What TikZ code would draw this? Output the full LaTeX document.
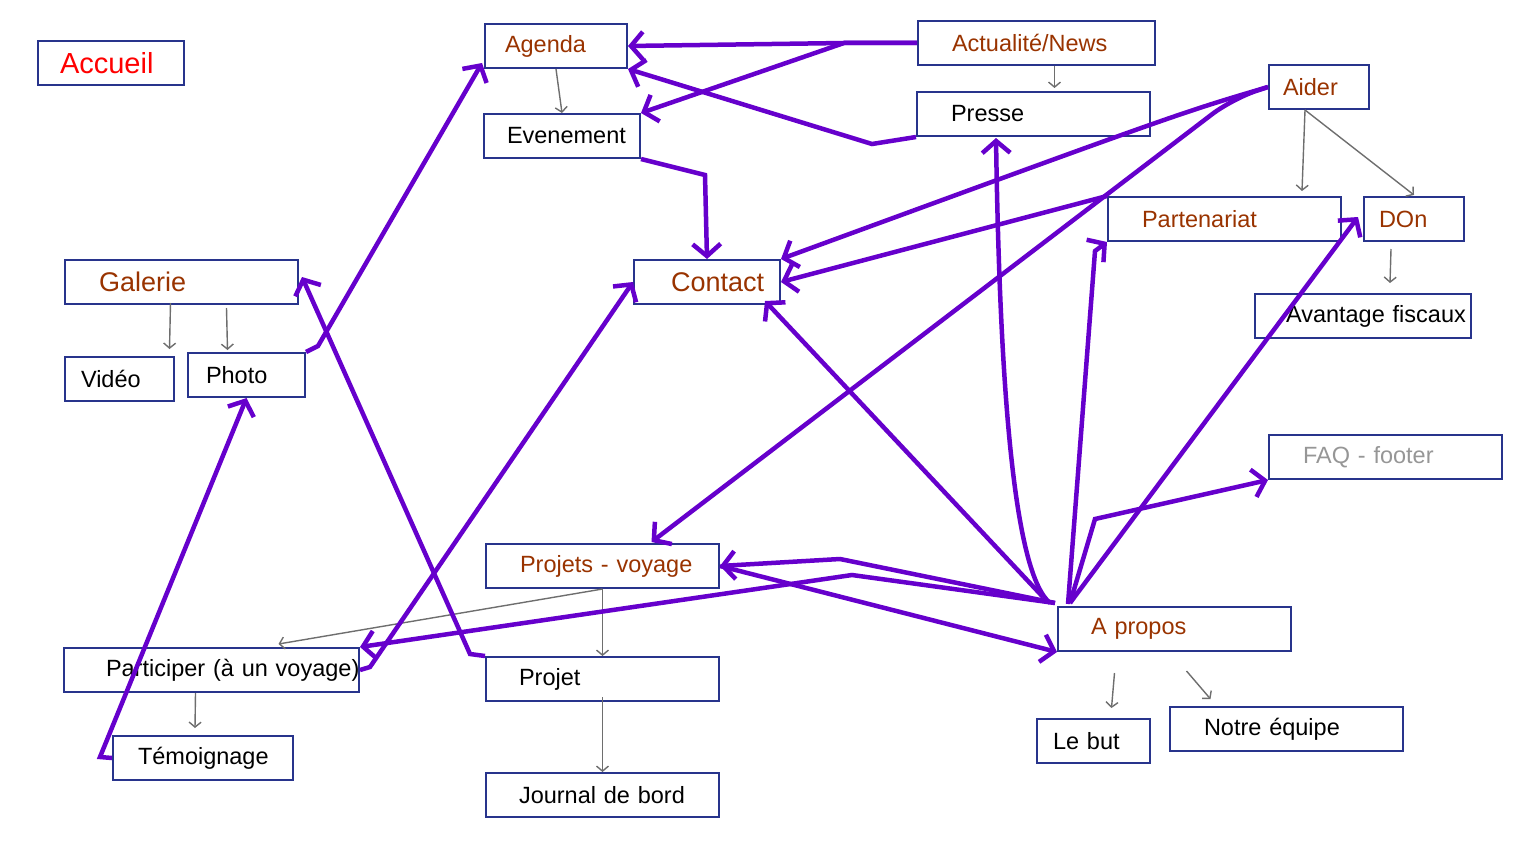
\documentclass[tikz,border=0pt]{standalone}
\usepackage{fontspec}
\setmainfont{Liberation Sans}
\usetikzlibrary{arrows.meta, calc}
\definecolor{boxblue}{RGB}{40,52,140}
\definecolor{linkpurple}{RGB}{102,0,204}
\definecolor{brownred}{RGB}{153,51,0}
\definecolor{faqgray}{RGB}{150,150,150}
\definecolor{subgray}{RGB}{110,110,110}

\begin{document}
\begin{tikzpicture}[
        x=1pt, y=-1pt,
        every node/.style={font=\fontsize{23.5}{26}\selectfont},
        box/.style={draw=boxblue, line width=2pt, anchor=north west, align=left,
                    inner xsep=0pt, inner ysep=0pt, minimum height=44pt},
        big/.style={font=\fontsize{27}{30}\selectfont},
        hl/.style={text=brownred},
        link/.style={-{Straight Barb[length=12pt, width=28pt]}, draw=linkpurple, line width=4.5pt},
        sub/.style={-{Straight Barb[length=5pt, width=12pt]}, draw=subgray, line width=1.4pt}]

      \useasboundingbox (0,0) rectangle (1531,859);

      \node[box, text width=146pt, font=\fontsize{29}{32}\selectfont, text=red] (accueil) at (37,40) {\hspace*{22pt}Accueil};

      \node[box, hl, text width=142pt] (agenda) at (484,23) {\hspace*{20pt}Agenda};
      \node[box, text width=156pt] (evenement) at (483,113) {\hspace*{23pt}Evenement};
      \node[box, hl, text width=237pt] (actu) at (917,20) {\hspace*{34pt}Actualité/News};
      \node[box, text width=233pt] (presse) at (916,91) {\hspace*{34pt}Presse};
      \node[box, hl, text width=100pt] (aider) at (1268,64) {\hspace*{14pt}Aider};
      \node[box, hl, text width=233pt] (partenariat) at (1107,196) {\hspace*{34pt}Partenariat};
      \node[box, hl, text width=100pt] (don) at (1363,196) {\hspace*{15pt}DOn};
      \node[box, text width=216pt] (avantage) at (1254,293) {\hspace*{31pt}\makebox[0pt][l]{Avantage fiscaux}};

      \node[box, hl, big, text width=233pt] (galerie) at (64,259) {\hspace*{34pt}Galerie};
      \node[box, text width=109pt] (video) at (64,356) {\hspace*{16pt}Vidéo};
      \node[box, text width=117pt] (photo) at (187,352) {\hspace*{18pt}Photo};
      \node[box, hl, big, text width=146pt] (contact) at (633,259) {\hspace*{37pt}Contact};
      \node[box, text=faqgray, text width=233pt] (faq) at (1268,434) {\hspace*{34pt}FAQ - footer};

      \node[box, hl, text width=233pt] (projets) at (485,543) {\hspace*{34pt}Projets - voyage};
      \node[box, hl, text width=233pt] (apropos) at (1057,606) {\hspace*{33pt}A propos};
      \node[box, text width=295pt] (participer) at (63,647) {\hspace*{42pt}\makebox[0pt][l]{Participer (à un voyage)}};
      \node[box, text width=233pt] (projet) at (485,656) {\hspace*{33pt}Projet};
      \node[box, text width=233pt] (journal) at (485,772) {\hspace*{33pt}Journal de bord};
      \node[box, text width=180pt] (temoignage) at (112,735) {\hspace*{25pt}Témoignage};
      \node[box, text width=113pt] (lebut) at (1036,718) {\hspace*{16pt}Le but};
      \node[box, text width=233pt] (equipe) at (1169,706) {\hspace*{34pt}Notre équipe};

      % sub-pages
      \draw[sub] (agenda.south) -- (evenement.north);
      \draw[sub] ($(actu.south)+(18,0)$) -- ($(presse.north)+(21,-3)$);
      \draw[sub] ($(aider.south)+(-14,0)$) -- ($(partenariat.north east)+(-40,-5)$);
      \draw[sub] ($(aider.south)+(-14,0)$) -- ($(don.north)+(0,-1)$);
      \draw[sub] ($(don.south)+(-23,7)$) -- ($(avantage.north)+(27,-10)$);
      \draw[sub] ($(galerie.south)+(-11,-2)$) -- ($(video.north)+(50,-7)$);
      \draw[sub] ($(galerie.south)+(45,3)$) -- ($(photo.north)+(-19,-2)$);
      \draw[sub] (projets.south) -- (projet.north);
      \draw[sub] (projets.south) -- ($(participer.north)+(67,-3)$);
      \draw[sub] ($(participer.south)+(-16,0)$) -- ($(temoignage.north)+(-8,-7)$);
      \draw[sub] ($(projet.south)+(0,-5)$) -- (journal.north);
      \draw[sub] ($(apropos.south)+(-60,21)$) -- ($(lebut.north)+(18,-10)$);
      \draw[sub] ($(apropos.south)+(12,19)$) -- ($(equipe.north)+(-76,-7)$);

      % links between pages
      \coordinate (fork) at (844,43);
      \draw[link] (actu.west) -- (fork) -- (agenda.east);
      \draw[link] (actu.west) -- (fork) -- (evenement.north east);
      \draw[link] (presse.south west) -- (872,144) -- (agenda.south east);
      \draw[link] (evenement.south east) -- (705,175) -- (contact.north);
      \draw[link] (aider.west) .. controls (1180,113) .. (contact.north east);
      \draw[link, rounded corners=25pt] (aider.west) -- (1232,99) -- ($(projets.north)+(49,-1)$);
      \draw[link] (partenariat.north west) -- (contact.east);
      \draw[link] ($(apropos.north west)+(-14,-9)$) -- ($(contact.south east)+(-16,-4)$);
      \draw[link] ($(apropos.north west)+(-7,-3)$) .. controls (1015,574) and (1000,399) .. ($(presse.south west)+(80,1)$);
      \draw[link] ($(apropos.north west)+(11,-2)$) -- (1095,251) -- (partenariat.south west);
      \draw[link] ($(apropos.north west)+(13,-3)$) -- ($(don.west)+(-5,-2)$);
      \draw[link] ($(apropos.north west)+(13,-3)$) -- (1095,519) -- (faq.south west);
      \draw[link] ($(apropos.north west)+(-2,-3)$) -- (840,559) -- (projets.east);
      \draw[link] ($(apropos.north west)+(-2,-3)$) -- (852,575) -- (participer.north east);
      \draw[link] (projets.east) -- (apropos.south west);
      \draw[link] (participer.east) -- (370,667) -- (contact.west);
      \draw[link] (projet.north west) -- (470,654) -- ($(galerie.east)+(3,-5)$);
      \draw[link] (photo.north east) -- (318,346) -- ($(agenda.south west)+(-2,-6)$);
      \draw[link] (temoignage.west) -- (100,757) -- (photo.south);
    \end{tikzpicture}
\end{document}
